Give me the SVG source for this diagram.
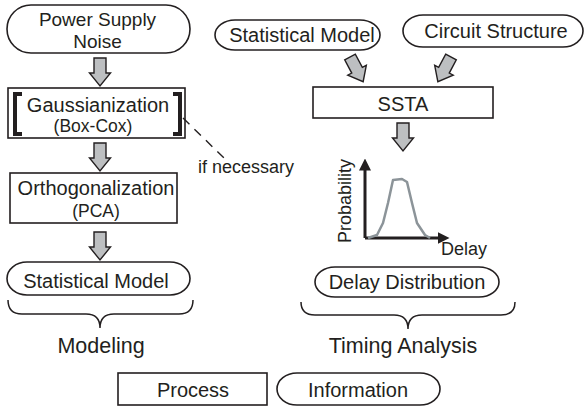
<svg xmlns="http://www.w3.org/2000/svg" width="586" height="410" viewBox="0 0 586 410">
<style>
text{font-family:"Liberation Sans",Arial,sans-serif;fill:#231f20;text-anchor:middle}
.t20{font-size:20px}
.t18{font-size:18px}
.t21{font-size:21.5px}
.box{fill:#fff;stroke:#231f20;stroke-width:1.6}
.pill{fill:#fff;stroke:#231f20;stroke-width:1.6}
.arr{fill:#bdbfc1;stroke:#231f20;stroke-width:1.4;stroke-linejoin:miter}
.brk{fill:none;stroke:#231f20;stroke-width:4}
.brace{fill:none;stroke:#231f20;stroke-width:1.5}
</style>
<defs>
<path id="blk" d="M-6,0 L6,0 L6,15 L10.5,15 L0,28 L-10.5,15 L-6,15 Z"/>
<marker id="ah" markerWidth="4" markerHeight="4" refX="1.5" refY="2" orient="auto" markerUnits="strokeWidth">
<path d="M0,0 L4,2 L0,4 Z" fill="#231f20"/>
</marker>
</defs>

<g id="power-supply-noise">
<rect class="pill" x="7" y="5" width="183" height="48" rx="24" ry="24"/>
<text style="font-size:19px" x="97.5" y="26">Power Supply</text>
<text style="font-size:19px" x="97.5" y="47.5">Noise</text>
</g>

<g id="gaussianization">
<rect class="box" x="8" y="88" width="177" height="50"/>
<path class="brk" d="M22,94 L15,94 L15,134 L22,134"/>
<path class="brk" d="M173,94 L180,94 L180,134 L173,134"/>
<text class="t20" x="98" y="112">Gaussianization</text>
<text style="font-size:17.5px" x="93" y="132">(Box-Cox)</text>
</g>

<g id="if-necessary">
<text class="t18" x="246" y="172.5">if necessary</text>
</g>

<g id="orthogonalization">
<rect class="box" x="10" y="173" width="167" height="50"/>
<text class="t20" x="96" y="195">Orthogonalization</text>
<text style="font-size:17.5px" x="96" y="217">(PCA)</text>
</g>

<g id="statistical-model-left">
<rect class="pill" x="7" y="262" width="183" height="33" rx="20" ry="16.5"/>
<text class="t20" x="96" y="288">Statistical Model</text>
</g>

<g id="modeling">
<path class="brace" d="M8,300 Q8,314 22,314 L86,314 Q100,314 100,328 Q100,314 114,314 L179,314 Q193,314 193,300"/>
<text class="t21" x="101" y="353">Modeling</text>
</g>

<g id="statistical-model-right">
<rect class="pill" x="215" y="20" width="165" height="30" rx="20" ry="15"/>
<text class="t20" x="302" y="42">Statistical Model</text>
</g>

<g id="circuit-structure">
<rect class="pill" x="403" y="15" width="180" height="32" rx="20" ry="16"/>
<text class="t20" x="496" y="38">Circuit Structure</text>
</g>

<g id="ssta">
<rect class="box" x="313" y="87" width="180" height="31"/>
<text class="t20" x="403" y="111">SSTA</text>
</g>

<g id="delay-plot">
<line x1="365" y1="238" x2="365" y2="166" stroke="#231f20" stroke-width="3" marker-end="url(#ah)"/>
<line x1="365" y1="238" x2="442" y2="238" stroke="#231f20" stroke-width="3" marker-end="url(#ah)"/>
<polyline points="368,238 377,235 383,223 388,203 393,180 402,179 407,182 412,203 417,223 425,235 430,238" fill="none" stroke="#8c9499" stroke-width="2.5" stroke-linejoin="round"/>
<text class="t18" transform="translate(351,201) rotate(-90)">Probability</text>
<text class="t18" x="464" y="255">Delay</text>
</g>

<g id="delay-distribution">
<rect class="pill" x="315" y="267" width="184" height="30" rx="20" ry="15"/>
<text class="t20" x="407" y="289">Delay Distribution</text>
</g>

<g id="timing-analysis">
<path class="brace" d="M301,302 Q301,315 315,315 L394,315 Q408,315 408,329 Q408,315 422,315 L501,315 Q515,315 515,302"/>
<text class="t21" x="403" y="353">Timing Analysis</text>
</g>

<g id="legend-process">
<rect class="box" x="118" y="373" width="149" height="32"/>
<text class="t20" x="193" y="397">Process</text>
</g>

<g id="legend-information">
<rect class="pill" x="277" y="373" width="163" height="32" rx="20" ry="16"/>
<text class="t20" x="358" y="397">Information</text>
</g>

<g id="connectors">
<use href="#blk" class="arr" transform="translate(100,58)"/>
<use href="#blk" class="arr" transform="translate(100,143)"/>
<use href="#blk" class="arr" transform="translate(100,232)"/>
<use href="#blk" class="arr" transform="translate(350,57) rotate(-28)"/>
<use href="#blk" class="arr" transform="translate(451,57) rotate(28)"/>
<use href="#blk" class="arr" transform="translate(403,123)"/>
<line x1="183" y1="118" x2="224" y2="158" stroke="#231f20" stroke-width="1.4" stroke-dasharray="9,7"/>
</g>
</svg>
